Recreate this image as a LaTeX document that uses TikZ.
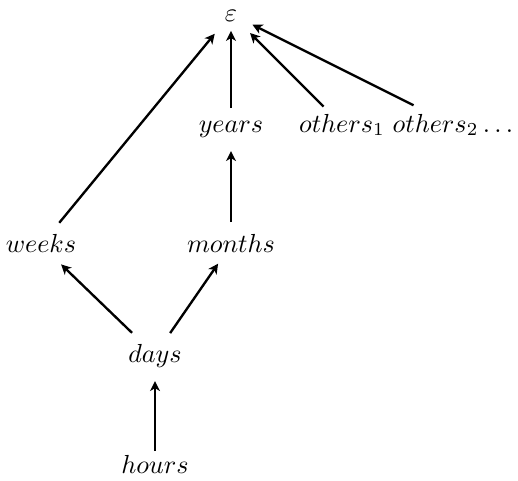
\documentclass[tikz,border=0pt]{standalone}
\usetikzlibrary{arrows.meta}
\begin{document}
\begin{tikzpicture}[x=0.383pt,y=-0.383pt,
  lbl/.style={inner sep=0pt,text height=1.5ex,text depth=0.25ex,execute at begin node=$,execute at end node=$},
  arr/.style 2 args={-{Stealth[length=3.8pt,width=3.8pt,inset=1.1pt]},line width=0.9pt,shorten <=#1,shorten >=#2}]
\useasboundingbox (0,0) rectangle (518,481);
\node[lbl] (E) at (231,14) {\varepsilon};
\node[lbl] (Y) at (231,125) {years};
\node[lbl] (O1) at (342,125) {others_1};
\node[lbl] (O2) at (453,125) {others_2\ldots};
\node[lbl] (W) at (41,245) {weeks};
\node[lbl] (M) at (231,245) {months};
\node[lbl] (D) at (155,355) {days};
\node[lbl] (H) at (155,466) {hours};
\draw[arr={11pt}{9.8pt}] (W.center) -- (E.center);
\draw[arr={6.5pt}{6.5pt}] (Y.center) -- (E.center);
\draw[arr={10pt}{10.3pt}] (O1.center) -- (E.center);
\draw[arr={16.9pt}{9.2pt}] (O2.center) -- (E.center);
\draw[arr={8.8pt}{10pt}] (M.center) -- (Y.center);
\draw[arr={12.2pt}{10.7pt}] (D.center) -- (W.center);
\draw[arr={10.2pt}{8.7pt}] (D.center) -- (M.center);
\draw[arr={5.7pt}{10pt}] (H.center) -- (D.center);
\end{tikzpicture}
\end{document}
